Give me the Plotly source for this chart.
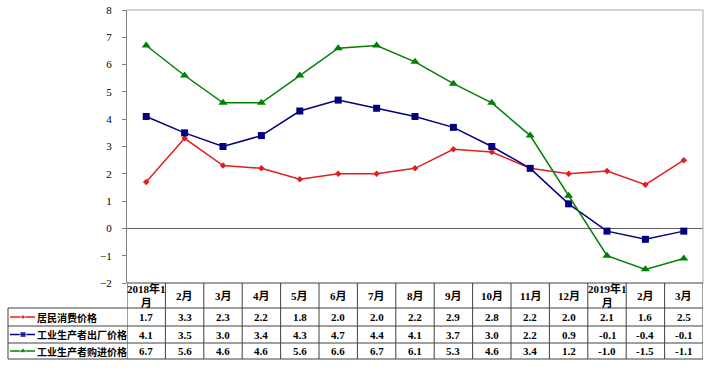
import plotly.graph_objects as go

W, H = 715, 372

months = ["2018年1<br>月", "2月", "3月", "4月", "5月", "6月", "7月", "8月", "9月",
          "10月", "11月", "12月", "2019年1<br>月", "2月", "3月"]
cpi = [1.7, 3.3, 2.3, 2.2, 1.8, 2.0, 2.0, 2.2, 2.9, 2.8, 2.2, 2.0, 2.1, 1.6, 2.5]
ppi_out = [4.1, 3.5, 3.0, 3.4, 4.3, 4.7, 4.4, 4.1, 3.7, 3.0, 2.2, 0.9, -0.1, -0.4, -0.1]
ppi_in = [6.7, 5.6, 4.6, 4.6, 5.6, 6.6, 6.7, 6.1, 5.3, 4.6, 3.4, 1.2, -1.0, -1.5, -1.1]
names = ["居民消费价格", "工业生产者出厂价格", "工业生产者购进价格"]
y_ticks = list(range(-2, 9))

colors = ["#E02020", "#000080", "#008000"]
symbols = ["diamond", "square", "triangle-up"]
msizes = [5, 7, 8]
series = [cpi, ppi_out, ppi_in]

def px(x):
    return x / W

def py(y):
    return 1 - y / H

# layout geometry (pixels)
PL, PR, PT, PB = 127, 703, 10, 283
row_lines = [283, 308, 326, 343, 359]
TL = 8

idx = list(range(len(months)))

fig = go.Figure()
for s, nm, c, sym, ms in zip(series, names, colors, symbols, msizes):
    fig.add_trace(go.Scatter(
        x=idx, y=s, mode="lines+markers", name=nm,
        line=dict(color=c, width=1.5),
        marker=dict(symbol=sym, size=ms, color=c),
        xaxis="x", yaxis="y", showlegend=False, hoverinfo="skip", cliponaxis=False))

# legend keys in the table (pixel overlay axis)
for k, (c, sym, ms) in enumerate(zip(colors, symbols, msizes)):
    yc = (row_lines[k + 1] + row_lines[k + 2]) / 2
    fig.add_trace(go.Scatter(
        x=[10, 23, 35], y=[yc, yc, yc], mode="lines+markers",
        line=dict(color=c, width=1.5),
        marker=dict(symbol=sym, size=[0, ms - 1, 0], color=c),
        xaxis="x2", yaxis="y2", showlegend=False, hoverinfo="skip"))

shapes = []
line_col = "#404040"
# frame: top & right gray
shapes.append(dict(type="line", xref="paper", yref="paper", x0=px(PL), x1=px(PR),
                   y0=py(PT), y1=py(PT), line=dict(color="#A8A8A8", width=1)))
shapes.append(dict(type="line", xref="paper", yref="paper", x0=px(PR), x1=px(PR),
                   y0=py(PT), y1=py(PB), line=dict(color="#A8A8A8", width=1)))
# table horizontal lines
for i, yy in enumerate(row_lines):
    x0 = PL if i == 0 else TL
    shapes.append(dict(type="line", xref="paper", yref="paper", x0=px(x0), x1=px(PR),
                       y0=py(yy), y1=py(yy), line=dict(color=line_col, width=1)))
# table vertical lines at category boundaries
for i in range(len(months) + 1):
    shapes.append(dict(type="line", xref="x", yref="paper", x0=i - 0.5, x1=i - 0.5,
                       y0=py(row_lines[0]), y1=py(row_lines[-1]),
                       line=dict(color=line_col, width=1)))
shapes.append(dict(type="line", xref="paper", yref="paper", x0=px(TL), x1=px(TL),
                   y0=py(row_lines[1]), y1=py(row_lines[-1]),
                   line=dict(color=line_col, width=1)))

ann = []
hdr_font = dict(family="Liberation Serif, Noto Sans CJK SC", size=11, color="#000")
num_font = dict(family="Liberation Serif", size=11, color="#000")
for i, m in enumerate(months):
    ann.append(dict(x=i, y=py((row_lines[0] + row_lines[1]) / 2), xref="x", yref="paper",
                    text="<b>%s</b>" % m, showarrow=False, font=hdr_font,
                    xanchor="center", yanchor="middle"))
for r, s in enumerate(series):
    yc = (row_lines[r + 1] + row_lines[r + 2]) / 2
    for i, v in enumerate(s):
        ann.append(dict(x=i, y=py(yc), xref="x", yref="paper",
                        text="<b>%.1f</b>" % v, showarrow=False, font=num_font,
                        xanchor="center", yanchor="middle"))
    ann.append(dict(x=px(35), y=py(yc), xref="paper", yref="paper",
                    text="<b>%s</b>" % names[r], showarrow=False,
                    font=dict(family="Noto Sans CJK SC", size=10, color="#000"),
                    xanchor="left", yanchor="middle"))

fig.update_layout(
    width=W, height=H,
    margin=dict(l=0, r=0, t=0, b=0, autoexpand=False),
    paper_bgcolor="white", plot_bgcolor="rgba(0,0,0,0)",
    xaxis=dict(domain=[px(PL), px(PR)], range=[-0.5, len(months) - 0.5],
               showticklabels=False, showgrid=False, zeroline=False, ticks="",
               showline=False, fixedrange=True, automargin=False, anchor="y"),
    yaxis=dict(domain=[py(PB), py(PT)], range=[-2, 8], tickvals=y_ticks,
               showgrid=False, zeroline=True, zerolinecolor="#606060", zerolinewidth=1,
               showline=True, linecolor="#808080", linewidth=1,
               ticks="outside", ticklen=4, tickcolor="#808080",
               tickfont=dict(family="Liberation Serif", size=11, color="#000"),
               tickformat="d", ticklabelstandoff=8, automargin=False, anchor="x"),
    xaxis2=dict(domain=[0, 1], range=[0, W], visible=False, anchor="y2",
                automargin=False),
    yaxis2=dict(domain=[0, 1], range=[H, 0], visible=False, anchor="x2",
                automargin=False),
    shapes=shapes, annotations=ann,
)

fig.write_html("out.html", config={"displayModeBar": False},
               post_script="document.body.style.margin='0';document.body.style.overflow='hidden';")
